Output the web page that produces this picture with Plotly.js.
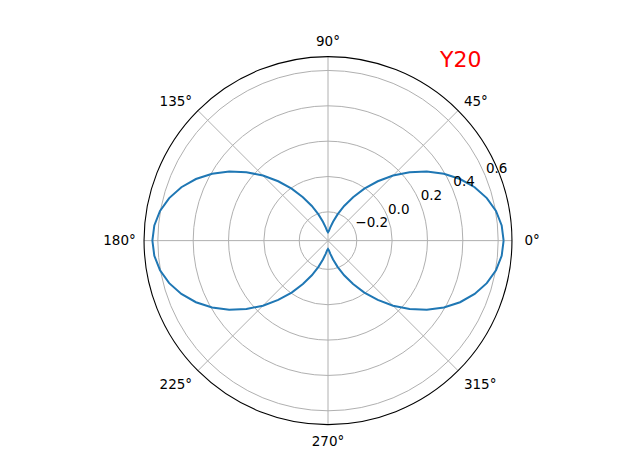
<!DOCTYPE html>
<html lang="en">
<head>
    <meta charset="UTF-8">
    <title>Y20</title>
    <script src="https://cdn.plot.ly/plotly-3.0.1.min.js"></script>
    <style>
        body { margin: 0; background: #ffffff; }
        #plot { width: 640px; height: 476px; }
    </style>
</head>
<body>
    <div id="plot"></div>
    <script>
        // angle in degrees and the value of Y20
        const thetaDeg = [
            0, 5, 10, 15, 20, 25, 30, 35, 40, 45, 50, 55, 60, 65, 70, 75, 80, 85,
            90, 95, 100, 105, 110, 115, 120, 125, 130, 135, 140, 145, 150, 155, 160, 165, 170, 175,
            180, 185, 190, 195, 200, 205, 210, 215, 220, 225, 230, 235, 240, 245, 250, 255, 260, 265,
            270, 275, 280, 285, 290, 295, 300, 305, 310, 315, 320, 325, 330, 335, 340, 345, 350, 355,
            360
        ];
        const rValues = [
            0.6308, 0.6236, 0.6023, 0.5674, 0.5201, 0.4618, 0.3943, 0.3195, 0.2399, 0.1577, 0.0755, -0.0041, -0.0789, -0.1464, -0.2047, -0.2520, -0.2869, -0.3082,
            -0.3154, -0.3082, -0.2869, -0.2520, -0.2047, -0.1464, -0.0789, -0.0041, 0.0755, 0.1577, 0.2399, 0.3195, 0.3943, 0.4618, 0.5201, 0.5674, 0.6023, 0.6236,
            0.6308, 0.6236, 0.6023, 0.5674, 0.5201, 0.4618, 0.3943, 0.3195, 0.2399, 0.1577, 0.0755, -0.0041, -0.0789, -0.1464, -0.2047, -0.2520, -0.2869, -0.3082,
            -0.3154, -0.3082, -0.2869, -0.2520, -0.2047, -0.1464, -0.0789, -0.0041, 0.0755, 0.1577, 0.2399, 0.3195, 0.3943, 0.4618, 0.5201, 0.5674, 0.6023, 0.6236,
            0.6308
        ];
        const radialTicks = [-0.2, 0.0, 0.2, 0.4, 0.6];
        const radialLabels = ['\u22120.2', '0.0', '0.2', '0.4', '0.6'];
        const angleTicks = [0, 45, 90, 135, 180, 225, 270, 315];
        const angleLabels = ['0°', '45°', '90°', '135°', '180°', '225°', '270°', '315°'];
        const chartTitle = 'Y20';

        const font = "'DejaVu Sans', sans-serif";
        const rRange = [-0.3627, 0.6781];
        const mainDomain = { x: [0.2250, 0.8000], y: [0.1080, 0.8810] };

        const curve = {
            type: 'scatterpolar',
            mode: 'lines',
            theta: thetaDeg,
            r: rValues,
            line: { color: '#1f77b4', width: 2 },
            hoverinfo: 'skip'
        };

        // empty trace so the label-only overlay subplot gets drawn
        const labelHolder = {
            type: 'scatterpolar',
            r: [],
            theta: [],
            subplot: 'polar2',
            hoverinfo: 'skip'
        };

        const layout = {
            width: 640,
            height: 476,
            margin: { l: 0, r: 0, t: 0, b: 0 },
            paper_bgcolor: '#ffffff',
            showlegend: false,
            polar: {
                domain: mainDomain,
                bgcolor: '#ffffff',
                radialaxis: {
                    range: rRange,
                    tickvals: radialTicks,
                    showticklabels: false,
                    angle: 22.5,
                    showline: false,
                    ticks: '',
                    gridcolor: '#b0b0b0',
                    gridwidth: 1
                },
                angularaxis: {
                    tickvals: angleTicks,
                    // 0° sits a bit further out in the original
                    ticktext: angleLabels.map((t, i) => i === 0 ? '\u00a0' + t : t),
                    direction: 'counterclockwise',
                    rotation: 0,
                    ticks: 'outside',
                    ticklen: 5,
                    tickcolor: 'rgba(0,0,0,0)',
                    showline: true,
                    linecolor: '#000000',
                    linewidth: 1.1,
                    gridcolor: '#b0b0b0',
                    gridwidth: 1,
                    tickfont: { family: font, size: 13.5, color: '#000000' }
                }
            },
            // same radial scale, nudged up so its labels sit where matplotlib puts them
            polar2: {
                domain: {
                    x: [mainDomain.x[0] - 2 / 640, mainDomain.x[1] - 2 / 640],
                    y: [mainDomain.y[0] + 16 / 476, mainDomain.y[1] + 16 / 476]
                },
                bgcolor: 'rgba(0,0,0,0)',
                radialaxis: {
                    range: rRange,
                    tickvals: radialTicks,
                    ticktext: radialLabels,
                    angle: 22.5,
                    side: 'clockwise',
                    tickangle: 22.5,
                    showline: false,
                    showgrid: false,
                    ticks: '',
                    tickfont: { family: font, size: 13.5, color: '#000000' }
                },
                angularaxis: {
                    showline: false,
                    showgrid: false,
                    showticklabels: false,
                    ticks: ''
                }
            },
            annotations: [{
                text: chartTitle,
                xref: 'paper', yref: 'paper',
                x: 460 / 640, y: (476 - 59) / 476,
                xanchor: 'center', yanchor: 'middle',
                showarrow: false,
                font: { family: font, size: 22, color: '#ff0000' }
            }]
        };

        Plotly.newPlot('plot', [curve, labelHolder], layout, { displayModeBar: false, staticPlot: true });
    </script>
</body>
</html>
